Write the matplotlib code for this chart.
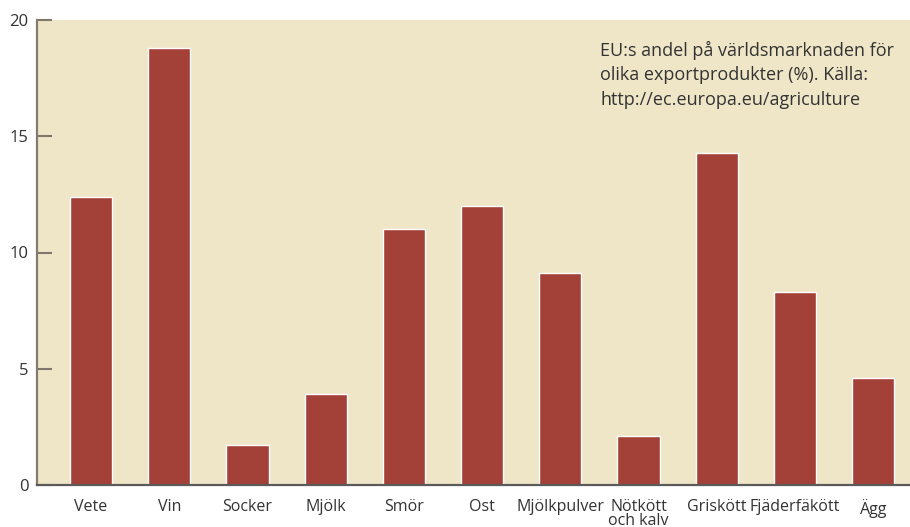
import matplotlib
matplotlib.use("Agg")
import matplotlib.pyplot as plt
import numpy as np

plt.rcParams['font.family'] = ['Open Sans', 'DejaVu Sans']

# EU:s andel av världsmarknaden per produkt (%)
produkter = ['Vete', 'Vin', 'Socker', 'Mjölk', 'Smör', 'Ost', 'Mjölkpulver',
             'Nötkött\noch kalv', 'Griskött', 'Fjäderfäkött', 'Ägg']
andel = [12.4, 18.8, 1.7, 3.9, 11.0, 12.0, 9.1, 2.1, 14.3, 8.3, 4.6]
yticks = [0, 5, 10, 15, 20]
notis = ("EU:s andel på världsmarknaden för\n"
         "olika exportprodukter (%). Källa:\n"
         "http://ec.europa.eu/agriculture")

bg = '#efe6c8'
barcol = '#a34037'
textcol = '#333333'

fig = plt.figure(figsize=(9.1, 5.27), dpi=100)
ax = fig.add_axes([37 / 910, 1 - 485 / 527, 1 - 37 / 910, (485 - 20) / 527])
ax.set_facecolor(bg)

x = np.arange(len(produkter))
ax.bar(x, andel, width=0.54, color=barcol, edgecolor='white', linewidth=1.0, zorder=2)

ax.set_xlim(-0.69, 10.47)
ax.set_ylim(0, 20)
ax.set_yticks(yticks)
ax.set_xticks(x)
ax.set_xticklabels(produkter, fontsize=11.5, color=textcol, linespacing=0.85)
ax.tick_params(axis='x', length=0, pad=10)
ax.tick_params(axis='y', direction='in', length=11, width=1.5, color='#7f766c',
               labelsize=12, labelcolor=textcol, pad=6)

for s in ['top', 'right']:
    ax.spines[s].set_visible(False)
ax.spines['left'].set_color('#857a6e')
ax.spines['left'].set_linewidth(1.6)
ax.spines['bottom'].set_color('#5c5a58')
ax.spines['bottom'].set_linewidth(1.6)

fig.text(600 / 910, 1 - 41 / 527, notis, fontsize=13, color=textcol,
         va='top', ha='left', linespacing=1.45)

fig.savefig('out.png', dpi=100)
